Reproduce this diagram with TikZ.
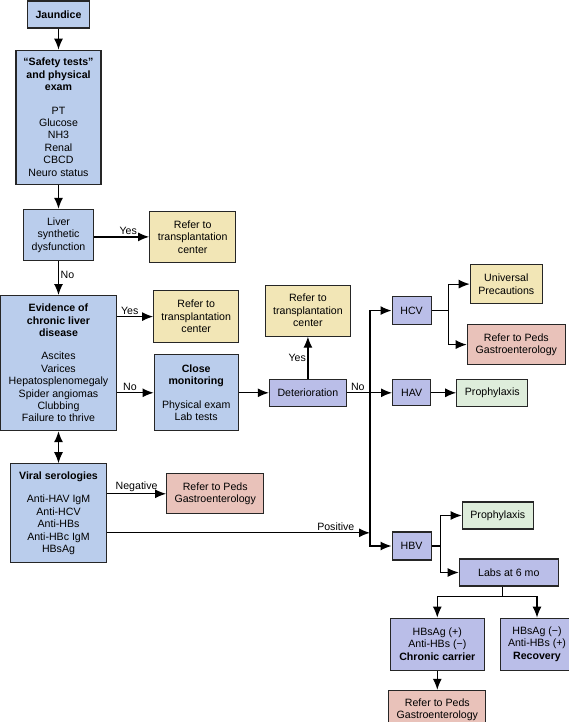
\documentclass[tikz,border=0pt]{standalone}
\usepackage{fontspec}
\setmainfont{Liberation Sans}
\usepackage{xcolor}
\usetikzlibrary{positioning}
\usetikzlibrary{arrows.meta}

\definecolor{boxblue}{RGB}{186,205,236}
\definecolor{boxlav}{RGB}{186,190,232}
\definecolor{boxyellow}{RGB}{242,230,182}
\definecolor{boxpink}{RGB}{233,194,186}
\definecolor{boxgreen}{RGB}{222,237,219}

\begin{document}
\begin{tikzpicture}
	\tikzstyle{box} = [draw=black!85, line width=1.2pt, align=center, inner sep=2pt, font=\fontsize{10.6}{12.4}\selectfont]
	\tikzstyle{work} = [box, fill=boxblue]
	\tikzstyle{virus} = [box, fill=boxlav]
	\tikzstyle{refer} = [box, fill=boxyellow]
	\tikzstyle{peds} = [box, fill=boxpink]
	\tikzstyle{care} = [box, fill=boxgreen]
	\tikzstyle{wire} = [draw, line width=1.2pt]
	\tikzstyle{line} = [wire, -{Latex[length=11pt,width=9pt]}]
	\tikzstyle{both} = [wire, {Latex[length=11pt,width=9pt]}-{Latex[length=11pt,width=9pt]}]
	\tikzstyle{lbl} = [inner sep=1.5pt, font=\fontsize{10.6}{12.4}\selectfont]
	
	\useasboundingbox (0,0) rectangle (569pt,-722pt);
	
	\node [work, minimum width=62pt, minimum height=27pt] (jaundice) at (58.5pt,-14.5pt) {\textbf{Jaundice}};
	\node [work, minimum width=85pt, minimum height=134pt, below=21pt of jaundice] (safety) {\textbf{“Safety tests”}\\\textbf{and physical}\\\textbf{exam}\\[11pt]PT\\Glucose\\NH3\\Renal\\CBCD\\Neuro status};
	\node [work, minimum width=70pt, minimum height=51pt, below=24pt of safety] (liver) {Liver\\synthetic\\dysfunction};
	\node [refer, minimum width=86pt, minimum height=51pt, right=55pt of liver, yshift=-2pt] (trans1) {Refer to\\transplantation\\center};
	\node [work, minimum width=116pt, minimum height=135pt, below=34pt of liver] (evidence) {\textbf{Evidence of}\\\textbf{chronic liver}\\\textbf{disease}\\[11pt]Ascites\\Varices\\Hepatosplenomegaly\\Spider angiomas\\Clubbing\\Failure to thrive};
	\node [refer, minimum width=85pt, minimum height=52pt, below=27pt of trans1, xshift=3.5pt] (trans2) {Refer to\\transplantation\\center};
	\node [work, minimum width=84pt, minimum height=76pt, below=11pt of trans2] (monitor) {\textbf{Close}\\\textbf{monitoring}\\[11pt]Physical exam\\Lab tests};
	\node [virus, minimum width=77pt, minimum height=27pt, right=30pt of monitor] (deter) {Deterioration};
	\node [refer, minimum width=85pt, minimum height=51pt, above=42pt of deter] (trans3) {Refer to\\transplantation\\center};
	\coordinate [right=23pt of deter] (split);
	\node [virus, minimum width=38pt, minimum height=26pt, right=45pt of deter] (hav) {HAV};
	\node [virus, minimum width=39pt, minimum height=28pt, above=54pt of hav] (hcv) {HCV};
	\node [virus, minimum width=39pt, minimum height=28pt, below=125pt of hav] (hbv) {HBV};
	\node [refer, minimum width=72pt, minimum height=39pt, right=38pt of hcv, yshift=26.5pt] (univ) {Universal\\Precautions};
	\node [peds, minimum width=98pt, minimum height=40pt, right=35pt of hcv, yshift=-34pt] (peds2) {Refer to Peds\\Gastroenterology};
	\node [care, minimum width=71pt, minimum height=27pt, right=25pt of hav] (proph1) {Prophylaxis};
	\node [care, minimum width=71pt, minimum height=27pt, right=30pt of hbv, yshift=30.5pt] (proph2) {Prophylaxis};
	\node [virus, minimum width=99pt, minimum height=27pt, right=27pt of hbv, yshift=-26.5pt] (labs) {Labs at 6 mo};
	\node [virus, minimum width=94pt, minimum height=52pt, below=31pt of labs, xshift=-71.5pt] (carrier) {HBsAg (+)\\Anti-HBs (−)\\\textbf{Chronic carrier}};
	\node [virus, minimum width=73pt, minimum height=52pt, right=15pt of carrier] (recovery) {HBsAg (−)\\Anti-HBs (+)\\\textbf{Recovery}};
	\node [peds, minimum width=97pt, minimum height=39pt, below=19pt of carrier] (peds3) {Refer to Peds\\Gastroenterology};
	\node [work, minimum width=96pt, minimum height=99pt, below=32pt of evidence] (viral) {\textbf{Viral serologies}\\[11pt]Anti-HAV IgM\\Anti-HCV\\Anti-HBs\\Anti-HBc IgM\\HBsAg};
	\node [peds, minimum width=97pt, minimum height=40pt, right=59pt of viral, yshift=19.5pt] (peds1) {Refer to Peds\\Gastroenterology};
	\coordinate [below=19.5pt of viral.east] (vpos);
	\coordinate [right=17pt of hcv] (hcvfork);
	\coordinate [right=9pt of hbv] (hbvfork);
	\coordinate [below=10pt of labs.south, xshift=-6.5pt] (labsfork);
	
	\path [line] (jaundice) -- (safety);
	\path [line] (safety) -- (liver);
	\path [line] (liver.east |- trans1) -- node[lbl, above, pos=0.62] {Yes} (trans1);
	\path [line] (liver) -- node[lbl, right, pos=0.4] {No} (evidence);
	\path [line] (evidence.east |- trans2) -- node[lbl, above, pos=0.35] {Yes} (trans2);
	\path [line] (evidence.east |- monitor) -- node[lbl, above, pos=0.35] {No} (monitor);
	\path [both] (evidence) -- (viral);
	\path [line] (monitor) -- (deter);
	\path [line] (deter) -- node[lbl, left] {Yes} (trans3);
	\path [line] (deter) -- node[lbl, above, pos=0.24] {No} (hav);
	\path [line] (split) |- (hcv);
	\path [line] (split) |- (hbv);
	\path [line] (viral.east |- peds1) -- node[lbl, above] {Negative} (peds1);
	\path [line] (vpos) -- node[lbl, above, pos=0.87] {Positive} (split |- vpos);
	\path [wire] (hcv) -- (hcvfork);
	\path [line] (hcvfork) |- (univ);
	\path [line] (hcvfork) |- (peds2);
	\path [line] (hav) -- (proph1);
	\path [wire] (hbv) -- (hbvfork);
	\path [line] (hbvfork) |- (proph2);
	\path [line] (hbvfork) |- (labs);
	\path [wire] (labs.south -| labsfork) -- (labsfork);
	\path [line] (labsfork) -| (carrier);
	\path [line] (labsfork) -| (recovery);
	\path [line] (carrier) -- (peds3);
\end{tikzpicture}
\end{document}
